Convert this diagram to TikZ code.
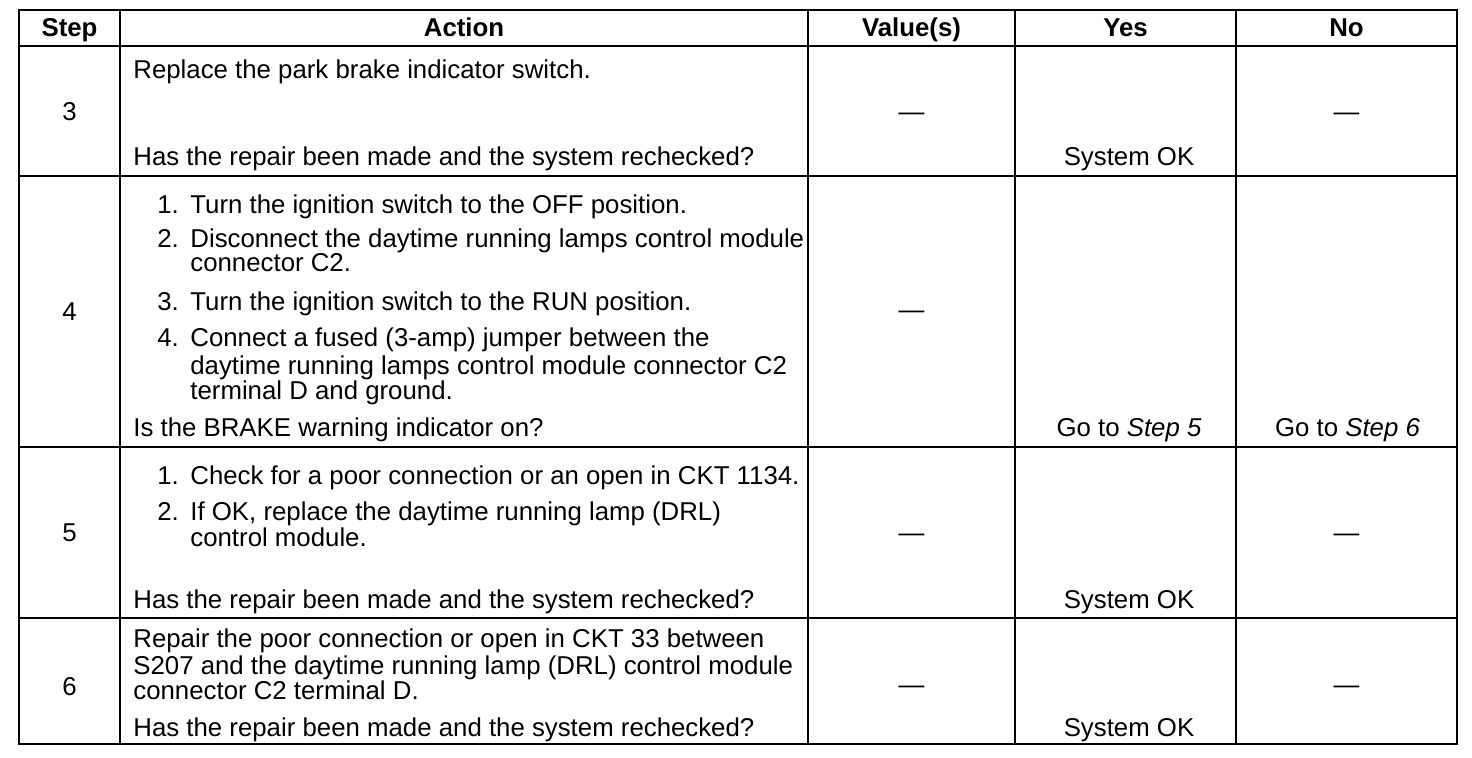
\documentclass[tikz,border=0pt]{standalone}
\usepackage{fontspec}
\setmainfont{Liberation Sans}
\tikzset{
  rule/.style = {line width = 1.4pt},
  head/.style = {font = \fontsize{12.9}{13}\selectfont\bfseries,
                 anchor = base,
                 inner sep = 0},
  cell/.style = {font = \fontsize{12.9}{13}\selectfont,
                 anchor = base west,
                 inner sep = 0},
  mid/.style = {cell,
                anchor = base}
}
\begin{document}
\begin{tikzpicture}[x = 0.5pt, y = -0.5pt]

\useasboundingbox (0,0) rectangle (1472,758);

% frame and rules
\draw[rule] (19,10) rectangle (1457,744);
\draw[rule] (19,46) -- (1457,46);
\draw[rule] (19,176) -- (1457,176);
\draw[rule] (19,447) -- (1457,447);
\draw[rule] (19,618) -- (1457,618);
\draw[rule] (120,10) -- (120,744);
\draw[rule] (808,10) -- (808,744);
\draw[rule] (1015,10) -- (1015,744);
\draw[rule] (1236,10) -- (1236,744);

% header
\node[head](h-step) at (69.5,37) {Step};
\node[head](h-action) at (464,37) {Action};
\node[head](h-value) at (911.5,37) {Value(s)};
\node[head](h-yes) at (1125.5,37) {Yes};
\node[head](h-no) at (1346.5,37) {No};

% step 3
\node[mid](s3) at (69.5,121) {3};
\node[cell](a3-1) at (133,79) {Replace the park brake indicator switch.};
\node[cell](a3-q) at (133,166) {Has the repair been made and the system rechecked?};
\node[mid](v3) at (911.5,121) {—};
\node[mid](y3) at (1129,166) {System OK};
\node[mid](n3) at (1346.5,121) {—};

% step 4
\node[mid](s4) at (69.5,321) {4};
\node[cell](n4-1) at (157,214) {1.};
\node[cell](a4-1) at (190,214) {Turn the ignition switch to the OFF position.};
\node[cell](n4-2) at (157,248) {2.};
\node[cell](a4-2) at (190,248) {Disconnect the daytime running lamps control module};
\node[cell](a4-2b) at (190,272) {connector C2.};
\node[cell](n4-3) at (157,311) {3.};
\node[cell](a4-3) at (190,311) {Turn the ignition switch to the RUN position.};
\node[cell](n4-4) at (157,347) {4.};
\node[cell](a4-4) at (190,347) {Connect a fused (3-amp) jumper between the};
\node[cell](a4-4b) at (190,375) {daytime running lamps control module connector C2};
\node[cell](a4-4c) at (190,400) {terminal D and ground.};
\node[cell](a4-q) at (133,437) {Is the BRAKE warning indicator on?};
\node[mid](v4) at (911.5,319) {—};
\node[mid](y4) at (1129,437) {Go to \textit{Step 5}};
\node[mid](n4) at (1347.5,437) {Go to \textit{Step 6}};

% step 5
\node[mid](s5) at (69.5,542) {5};
\node[cell](n5-1) at (157,485) {1.};
\node[cell](a5-1) at (190,485) {Check for a poor connection or an open in CKT 1134.};
\node[cell](n5-2) at (157,521) {2.};
\node[cell](a5-2) at (190,521) {If OK, replace the daytime running lamp (DRL)};
\node[cell](a5-2b) at (190,546) {control module.};
\node[cell](a5-q) at (133,609) {Has the repair been made and the system rechecked?};
\node[mid](v5) at (911.5,542) {—};
\node[mid](y5) at (1129,609) {System OK};
\node[mid](n5) at (1346.5,542) {—};

% step 6
\node[mid](s6) at (69.5,695) {6};
\node[cell](a6-1) at (133,647) {Repair the poor connection or open in CKT 33 between};
\node[cell](a6-1b) at (133,674) {S207 and the daytime running lamp (DRL) control module};
\node[cell](a6-1c) at (133,699) {connector C2 terminal D.};
\node[cell](a6-q) at (133,736) {Has the repair been made and the system rechecked?};
\node[mid](v6) at (911.5,693) {—};
\node[mid](y6) at (1129,736) {System OK};
\node[mid](n6) at (1346.5,693) {—};

\end{tikzpicture}
\end{document}
